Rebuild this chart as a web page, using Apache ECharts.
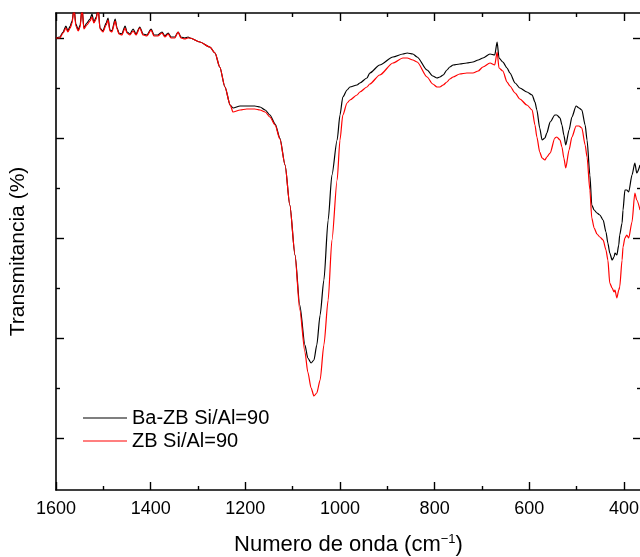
<!DOCTYPE html>
<html>
<head>
<meta charset="utf-8">
<script src="https://cdn.jsdelivr.net/npm/echarts@6/dist/echarts.min.js"></script>
<style>
    html, body { margin: 0; padding: 0; background: #fff; }
    #ftir { width: 640px; height: 557px; }
</style>
</head>
<body>
<div id="ftir"></div>
<script>
// numero de onda (cm-1)
const wn = [
    1600, 1592, 1585, 1579, 1575, 1570, 1566, 1562, 1558, 1553,
    1549, 1545, 1541, 1535, 1528, 1524, 1520, 1515, 1511, 1507,
    1501, 1494, 1490, 1486, 1482, 1475, 1471, 1467, 1461, 1454,
    1450, 1444, 1437, 1431, 1423, 1416, 1408, 1399, 1393, 1385,
    1376, 1370, 1363, 1357, 1349, 1342, 1336, 1328, 1321, 1317,
    1296, 1275, 1264, 1254, 1243, 1232, 1226, 1211, 1197, 1180,
    1169, 1158, 1148, 1137, 1127, 1116, 1106, 1095, 1085, 1074,
    1068, 1061, 1055, 1049, 1042, 1034, 1025, 1017, 1006, 1000,
    994, 985, 979, 964, 958, 943, 937, 916, 888, 867,
    858, 846, 837, 816, 804, 795, 789, 782, 774, 768,
    761, 747, 732, 719, 708, 698, 683, 673, 668, 664,
    656, 647, 641, 630, 620, 605, 594, 588, 584, 578,
    573, 567, 563, 556, 546, 542, 535, 531, 527, 523,
    516, 510, 501, 495, 489, 482, 478, 472, 468, 463,
    457, 451, 444, 438, 434, 430, 425, 421, 419, 415,
    411, 409, 404, 402, 398, 394, 390, 383, 377, 373,
    366
]

// Ba-ZB Si/Al=90
const tBa = [
    80, 80.2, 81.2, 82.4, 81.4, 82.4, 83.4, 86, 82.8, 81.6,
    82.6, 86, 82, 83, 83.8, 84.8, 83.2, 84.2, 86, 82,
    81.4, 83, 84, 81.6, 81.4, 83.8, 82, 81, 80.8, 82.4,
    81.2, 80.8, 81.8, 80.8, 82.2, 80.8, 80.6, 81.8, 80.6, 80.6,
    81.2, 80.4, 81, 80.2, 80.2, 81.2, 80.2, 80, 80.2, 80,
    79.2, 78.2, 77, 74.2, 70.2, 66.6, 66, 66.4, 66.4, 66.4,
    66.2, 65.6, 64.6, 62.8, 60, 54.6, 46.6, 36.6, 26.6, 18.6,
    16, 15, 15.6, 18.6, 24.6, 31.6, 43.6, 52.6, 59.6, 64.6,
    68.2, 69.6, 70.2, 70.6, 71, 72, 73, 74.6, 76.2, 76.8,
    77, 76.8, 76.2, 73.6, 72.4, 72, 72.2, 72.6, 73.6, 74.2,
    74.6, 74.8, 75, 75.2, 75.6, 76, 76.8, 76.6, 79.2, 76,
    75.2, 74, 73, 71, 70, 69.2, 68.6, 67.2, 65.6, 62,
    59.6, 60, 61, 63.2, 64.6, 64.6, 64, 62.6, 60.6, 58.6,
    61.6, 64.2, 66.4, 66, 65.6, 62.6, 59.6, 52.6, 46.6, 45.6,
    45, 44.6, 43.6, 41.2, 39, 37, 35.6, 36.2, 37, 36.6,
    38.6, 40.6, 43, 45.6, 49.6, 49.6, 49.2, 52.6, 55, 53,
    54.6
]

// ZB Si/Al=90
const tZB = [
    80, 80, 81, 82, 81.2, 82, 83, 86, 82.4, 81.4,
    82.2, 86, 81.8, 82.6, 83.4, 84.2, 83, 83.8, 86, 81.8,
    81.2, 82.6, 83.6, 81.4, 81.2, 83.4, 81.8, 80.8, 80.6, 82,
    81, 80.6, 81.4, 80.6, 82, 80.6, 80.4, 81.6, 80.4, 80.4,
    81, 80.2, 80.8, 80, 80, 81.2, 80, 79.8, 80, 80,
    79.2, 78.2, 77, 74.2, 70.2, 66.6, 65.2, 65.6, 65.8, 65.8,
    65.6, 65.2, 64.2, 62.6, 59.8, 54.6, 46.6, 36.6, 25.6, 17.2,
    13.2, 10, 8.4, 9, 11.6, 18.6, 27.6, 39.6, 51.6, 59.6,
    64.6, 67, 67.6, 68.6, 69.2, 70.2, 70.8, 72.6, 75, 76,
    76, 75.6, 75.2, 72.2, 70.8, 70.2, 70.2, 70.6, 71.2, 71.8,
    72.2, 72.8, 73, 73, 73.4, 74.2, 75, 74.6, 77.2, 74,
    73.4, 71.2, 70.4, 69, 67.8, 66.6, 65.6, 62.6, 60.2, 57.2,
    56, 55.6, 56.2, 57, 60, 60.2, 59.6, 58.2, 56, 54,
    57.6, 60.2, 62.4, 62.4, 62, 58.6, 56.2, 49.6, 44, 42,
    40.8, 40.2, 39.6, 37.6, 35.6, 31, 30, 29.2, 29.6, 28,
    29.6, 30.2, 35.6, 38.2, 40, 40.6, 40, 43.2, 49, 47.6,
    45.6
]

const xMajor = [400, 600, 800, 1000, 1200, 1400, 1600]
const xMinor = [500, 700, 900, 1100, 1300, 1500]
const yMajor = [0, 20, 40, 60, 80]
const yMinor = [10, 30, 50, 70]

const font = 'Liberation Sans, Arial, sans-serif'
const axisColor = '#000'

const pairs = function (ys) {
    const out = []
    for (let i = 0; i < wn.length; i++) {
        out.push([wn[i], ys[i]])
    }
    return out
}

const xAx = function (pos, ticks, len, main) {
    return {
        type: 'value',
        position: pos,
        inverse: true,
        min: 364,
        max: 1600,
        axisLine: { show: main, onZero: false, lineStyle: { color: axisColor, width: 1.6 } },
        axisTick: { show: true, inside: true, length: len, customValues: ticks, lineStyle: { color: axisColor, width: 1.4 } },
        axisLabel: { show: false },
        splitLine: { show: false }
    }
}

const yAx = function (pos, ticks, len, main) {
    return {
        type: 'value',
        position: pos,
        min: -10.4,
        max: 85,
        axisLine: { show: main, onZero: false, lineStyle: { color: axisColor, width: 1.6 } },
        axisTick: { show: true, inside: true, length: len, customValues: ticks, lineStyle: { color: axisColor, width: 1.4 } },
        axisLabel: { show: false },
        splitLine: { show: false }
    }
}

const bottomMain = xAx('bottom', xMajor, 8, true)
bottomMain.axisLabel = {
    show: true,
    customValues: xMajor,
    formatter: function (v) { return String(v) },
    color: '#000',
    fontFamily: font,
    fontSize: 18,
    margin: 10
}
bottomMain.name = 'Numero de onda (cm{sup|−1})'
bottomMain.nameLocation = 'middle'
bottomMain.nameGap = 43
bottomMain.nameTextStyle = {
    color: '#000',
    fontFamily: font,
    fontSize: 22,
    rich: {
        sup: { fontFamily: font, fontSize: 13, color: '#000', padding: [0, 0, 11, 0] }
    }
}

const leftMain = yAx('left', yMajor, 8, true)
leftMain.name = 'Transmitancia (%)'
leftMain.nameLocation = 'middle'
leftMain.nameGap = 27
leftMain.nameTextStyle = { color: '#000', fontFamily: font, fontSize: 21 }

const option = {
    animation: false,
    backgroundColor: '#fff',
    grid: { left: 56, right: -1, top: 13, bottom: 67, containLabel: false, outerBoundsMode: 'none' },
    legend: {
        orient: 'vertical',
        left: 83,
        top: 408,
        padding: 0,
        icon: 'rect',
        itemWidth: 44,
        itemHeight: 1.2,
        itemGap: 3,
        textStyle: { color: '#000', fontFamily: font, fontSize: 20 },
        data: ['Ba-ZB Si/Al=90', 'ZB Si/Al=90']
    },
    xAxis: [
        bottomMain,
        xAx('bottom', xMinor, 4, false),
        xAx('top', xMajor, 8, true),
        xAx('top', xMinor, 4, false)
    ],
    yAxis: [
        leftMain,
        yAx('left', yMinor, 4, false),
        yAx('right', yMajor, 8, false),
        yAx('right', yMinor, 4, false)
    ],
    series: [
        {
            name: 'Ba-ZB Si/Al=90',
            type: 'line',
            data: pairs(tBa),
            symbol: 'none',
            smooth: 0.25,
            smoothMonotone: 'x',
            clip: true,
            lineStyle: { color: '#000', width: 1.2 },
            itemStyle: { color: '#000' }
        },
        {
            name: 'ZB Si/Al=90',
            type: 'line',
            data: pairs(tZB),
            symbol: 'none',
            smooth: 0.25,
            smoothMonotone: 'x',
            clip: true,
            lineStyle: { color: '#ff0000', width: 1.2 },
            itemStyle: { color: '#ff0000' }
        }
    ]
}

const myChart = echarts.init(document.querySelector('#ftir'))
myChart.setOption(option)
</script>
</body>
</html>
